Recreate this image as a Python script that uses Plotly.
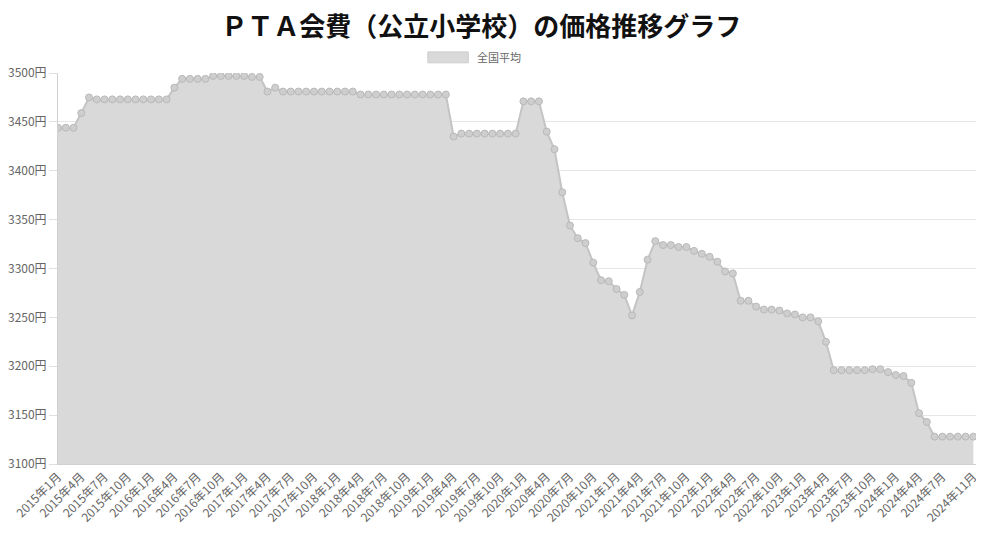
import plotly.graph_objects as go

# Months: 2015年1月 .. 2024年11月
months = [f"{y}年{m}月" for y in range(2015, 2025) for m in range(1, 13)][:119]

# PTA会費 全国平均 (円)
prices = (
    [3444, 3444, 3444, 3459, 3475]
    + [3473] * 10
    + [3485]
    + [3494] * 4
    + [3497] * 5
    + [3496, 3496, 3481, 3485]
    + [3481] * 10
    + [3478] * 12
    + [3435]
    + [3438] * 8
    + [3471, 3471, 3471]
    + [3440, 3422, 3378, 3344, 3331, 3326, 3306, 3288, 3287, 3279,
       3273, 3252, 3276, 3309, 3328, 3324, 3324, 3322, 3322, 3318,
       3315, 3312, 3307, 3297, 3295, 3267, 3267, 3261, 3258, 3258,
       3257, 3254, 3253, 3250, 3250, 3246, 3225]
    + [3196] * 5
    + [3197, 3197, 3194, 3191, 3190, 3183, 3152, 3143, 3128]
    + [3128] * 5
)

# tick labels every 3 months up to 2024年7月, plus the last month
tick_labels = months[:117:3] + [months[-1]]

series_name = "全国平均"
fill_col = "rgb(217,217,217)"

fig = go.Figure()

fig.add_trace(go.Scatter(
    x=months,
    y=prices,
    mode="lines+markers",
    fill="tozeroy",
    fillcolor=fill_col,
    line=dict(color="rgb(196,196,196)", width=2),
    marker=dict(size=7, color="rgb(206,206,206)",
                line=dict(color="rgb(185,185,185)", width=1)),
    name=series_name,
    showlegend=False,
))

# legend box + label (Chart.js style)
fig.add_shape(
    type="rect", xref="paper", yref="paper",
    x0=0.402, x1=0.446, y0=1.026, y1=1.054,
    fillcolor=fill_col, line=dict(color="rgb(205,205,205)", width=1),
)
fig.add_annotation(
    text=series_name, xref="paper", yref="paper",
    x=0.4533, y=1.040, xanchor="left", yanchor="middle",
    showarrow=False, font=dict(size=11, color="#666"),
)

fig.update_layout(
    width=976,
    height=528,
    margin=dict(l=50, r=6, t=65, b=72, autoexpand=False),
    plot_bgcolor="white",
    paper_bgcolor="white",
    font=dict(family="Noto Sans CJK JP, Arial, sans-serif", size=12, color="#666"),
    title=dict(
        text="<b>ＰＴＡ会費（公立小学校）の価格推移グラフ</b>",
        x=0.485, xref="container", xanchor="center",
        y=0.965, yref="container", yanchor="middle",
        font=dict(family="Noto Sans CJK JP", size=26, color="#111"),
    ),
    showlegend=False,
    xaxis=dict(
        type="category",
        range=[0, 118.6],
        tickmode="array",
        tickvals=tick_labels,
        ticktext=tick_labels,
        tickangle=-45,
        showgrid=False,
        showline=True,
        linecolor="#d0d0d0",
        ticks="",
        tickfont=dict(size=12, color="#666"),
    ),
    yaxis=dict(
        range=[3100, 3500],
        dtick=50,
        ticksuffix="円",
        showgrid=True,
        gridcolor="#e6e6e6",
        showline=True,
        linecolor="#d0d0d0",
        ticks="outside",
        ticklen=8,
        tickcolor="#e0e0e0",
        zeroline=False,
        tickfont=dict(size=12, color="#666"),
    ),
)

fig.write_html("out.html")
